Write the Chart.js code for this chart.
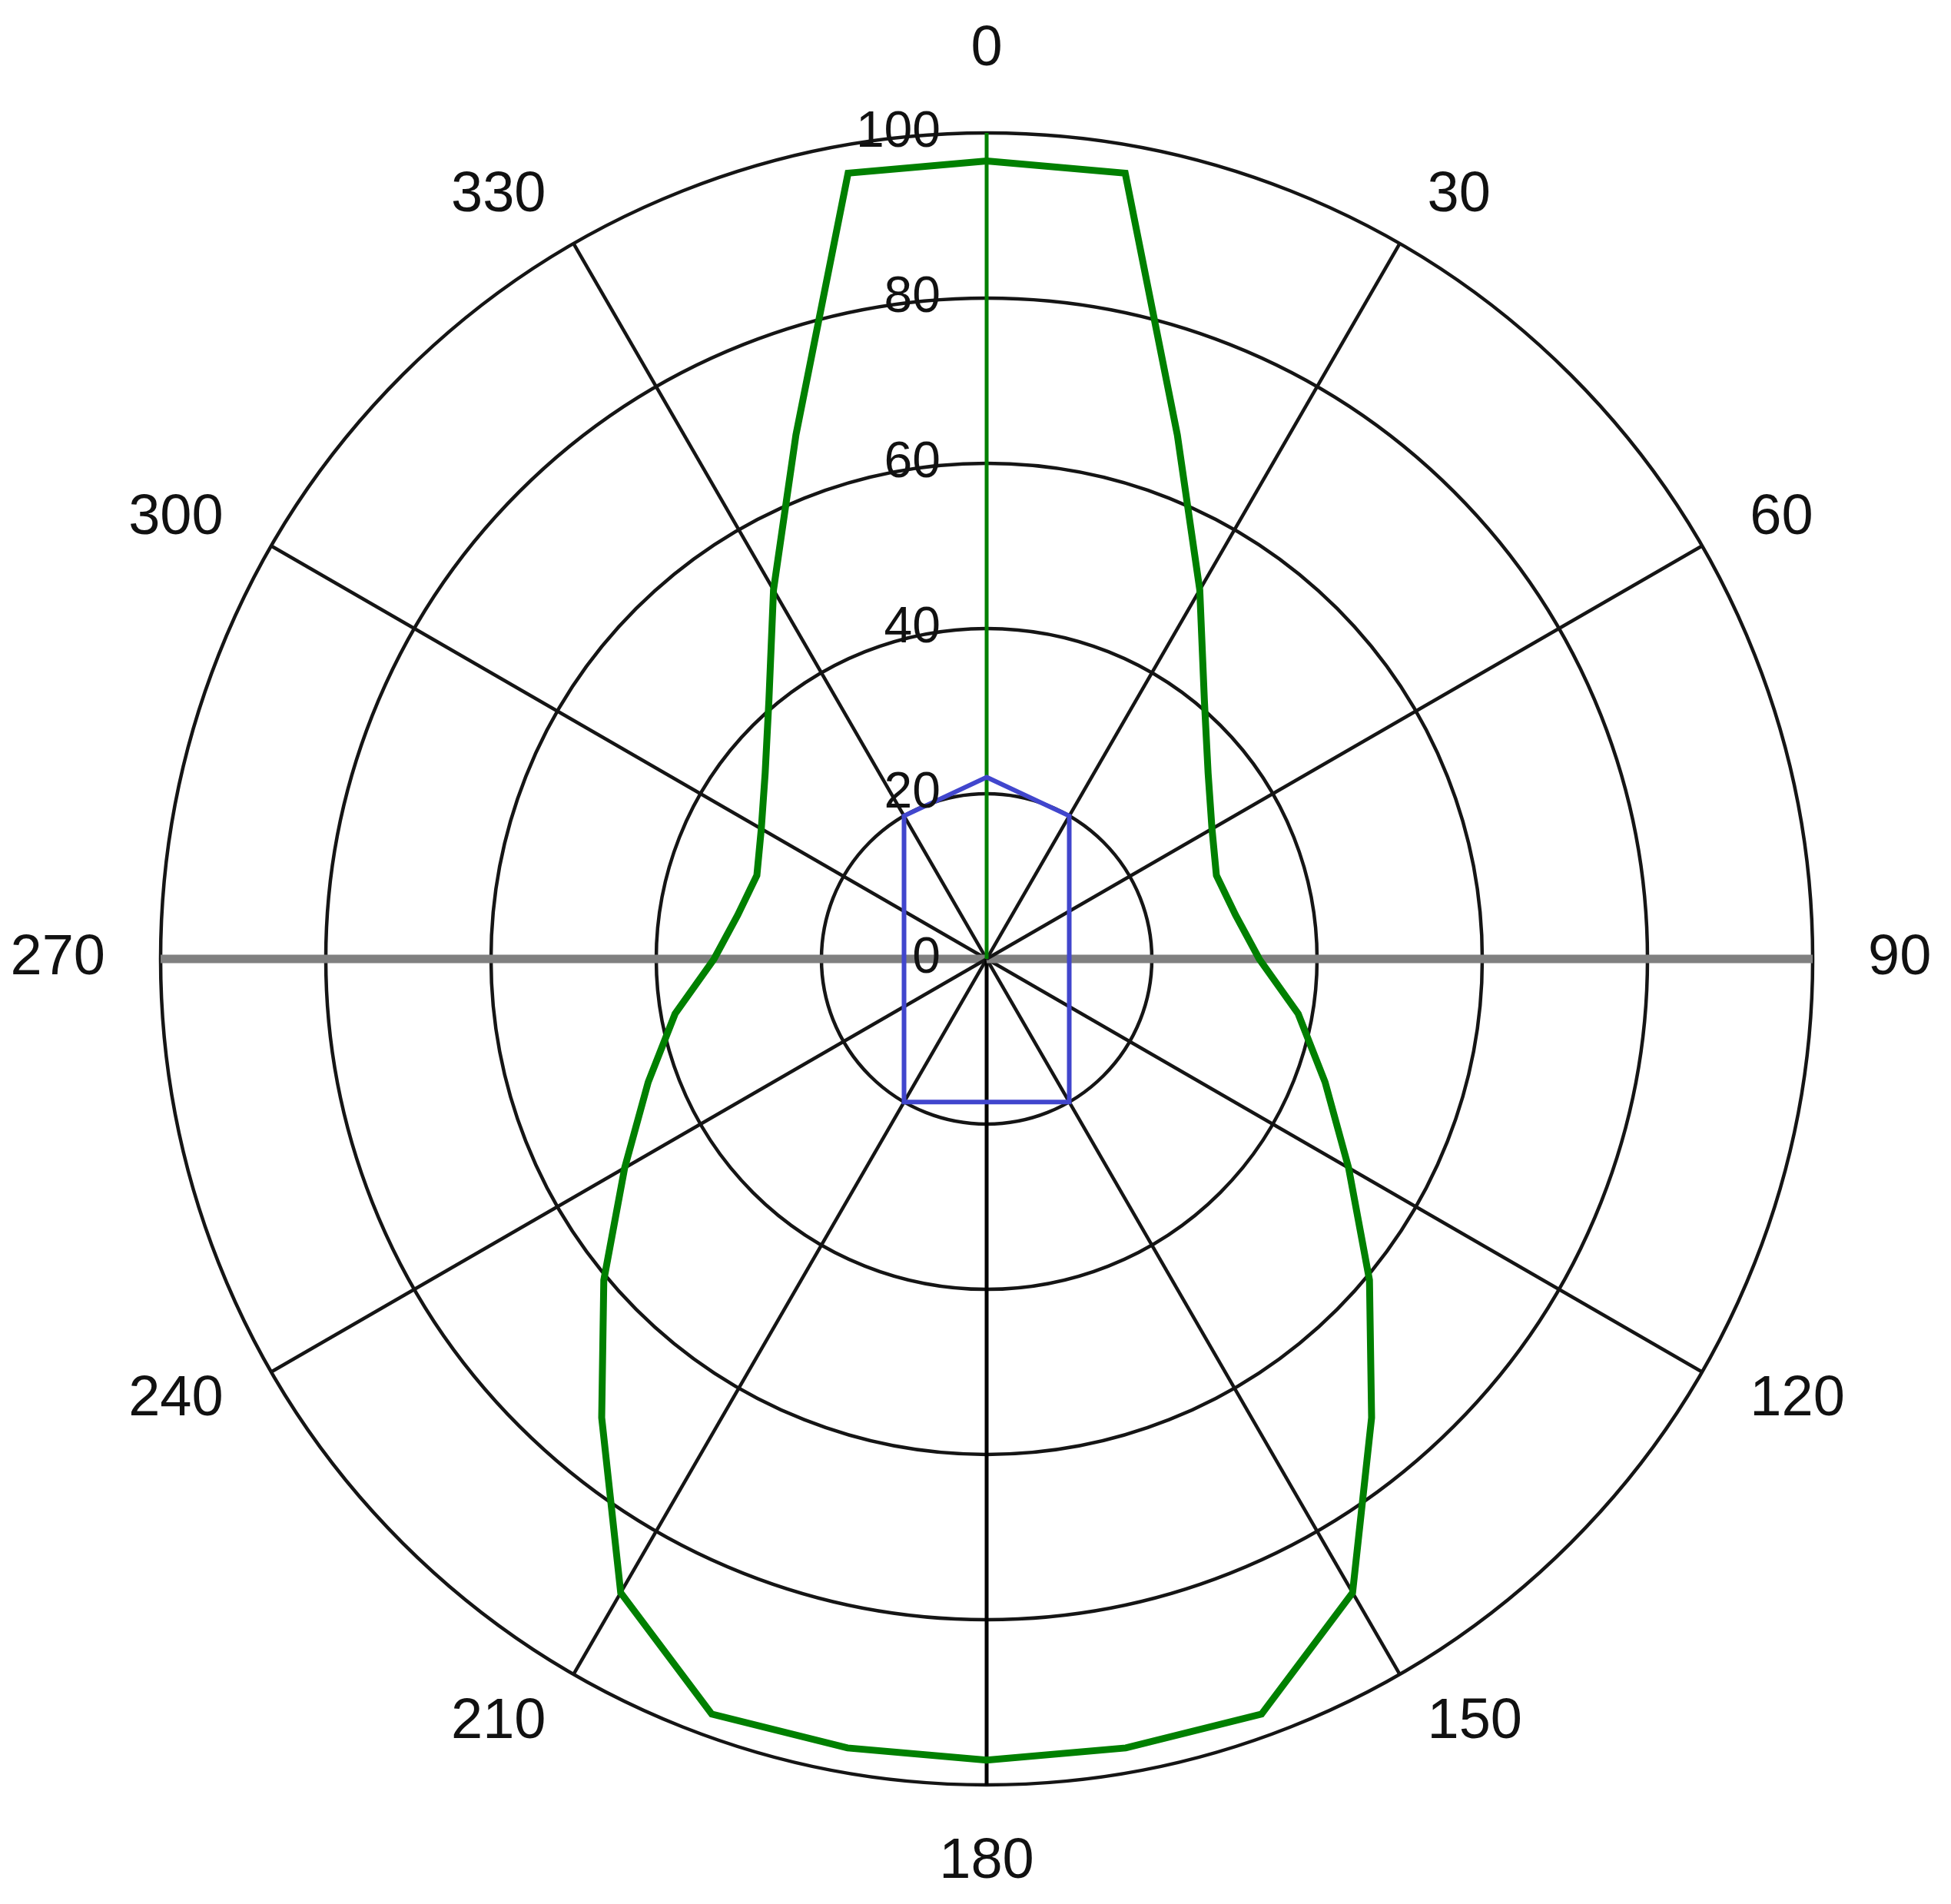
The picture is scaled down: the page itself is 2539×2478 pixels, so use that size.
<!DOCTYPE html>
<html>
<head>
<meta charset="utf-8">
<title>Polar diagram</title>
<script src="https://cdn.jsdelivr.net/npm/chart.js@4.4.1/dist/chart.umd.min.js"></script>
<style>
  html, body { margin: 0; padding: 0; background: #fff; }
  canvas { display: block; }
</style>
</head>
<body>
<canvas id="chart1" width="2539" height="2478"></canvas>
<script>
// angles every 10 degrees, only multiples of 30 get a label / spoke
const angles = [0,10,20,30,40,50,60,70,80,90,100,110,120,130,140,150,160,170,
                180,190,200,210,220,230,240,250,260,270,280,290,300,310,320,330,340,350];
const rTicks = [0,20,40,60,80,100];

const greenCurve = [96.6,96.6,67.5,51.6,41,35,31.5,29.6,30.6,33,38.3,43.6,50.6,60.5,72.5,88.6,97.3,97,
                    97,97,97.3,88.6,72.5,60.5,50.6,43.6,38.3,33,30.6,29.6,31.5,35,41,51.6,67.5,96.6];
const blueCurve = [22,null,null,20,null,null,null,null,null,null,null,null,null,null,null,20,null,null,
                   null,null,null,20,null,null,null,null,null,null,null,null,null,null,null,20,null,null];

const FONT = '"Liberation Sans", Arial, sans-serif';

function spokeColor(i) {
  const a = angles[i];
  if (a % 30 !== 0) return 'rgba(0,0,0,0)';
  if (a === 0) return '#008000';
  if (a === 90 || a === 270) return '#808080';
  if (a === 180) return '#000';
  return '#151515';
}
function spokeWidth(i) {
  const a = angles[i];
  if (a % 30 !== 0) return 0;
  if (a === 90 || a === 270) return 11;
  if (a === 0 || a === 180) return 5;
  return 4.5;
}

const textPlugin = {
  id: 'polarText',
  afterDraw(chart) {
    const scale = chart.scales.r;
    const c = chart.ctx;
    c.save();
    c.fillStyle = '#111';
    c.textBaseline = 'middle';
    c.font = '74px ' + FONT;
    angles.forEach((a, i) => {
      if (a % 30 !== 0) return;
      if (a === 0 || a === 180) {
        const p = scale.getPointPosition(i, scale.drawingArea + (a === 0 ? 108 : 101));
        c.textAlign = 'center';
        c.fillText(String(a), p.x, p.y);
      } else {
        const p = scale.getPointPosition(i, scale.drawingArea + 72);
        c.textAlign = a < 180 ? 'left' : 'right';
        c.fillText(String(a), p.x, p.y);
      }
    });
    c.font = '66px ' + FONT;
    c.textAlign = 'right';
    rTicks.forEach(v => {
      const y = scale.yCenter - scale.getDistanceFromCenterForValue(v);
      c.fillText(String(v), scale.xCenter - 60, y);
    });
    c.restore();
  }
};

const ctx = document.getElementById('chart1').getContext('2d');
new Chart(ctx, {
  type: 'radar',
  data: {
    labels: angles.map(String),
    datasets: [
      { data: greenCurve, borderColor: '#008000', borderWidth: 9, fill: false, pointRadius: 0, spanGaps: true },
      { data: blueCurve, borderColor: '#4146cd', borderWidth: 6, fill: false, pointRadius: 0, spanGaps: true }
    ]
  },
  options: {
    responsive: false,
    animation: false,
    layout: { padding: { left: 209, right: 180, top: 173, bottom: 155 } },
    elements: { line: { tension: 0 } },
    plugins: { legend: { display: false }, tooltip: { enabled: false } },
    scales: {
      r: {
        min: 0, max: 100,
        ticks: { display: false, stepSize: 20 },
        pointLabels: { display: false },
        grid: { circular: true, color: '#151515', lineWidth: 4.5 },
        angleLines: {
          color: c => spokeColor(c.index),
          lineWidth: c => spokeWidth(c.index)
        }
      }
    }
  },
  plugins: [textPlugin]
});
</script>
</body>
</html>
